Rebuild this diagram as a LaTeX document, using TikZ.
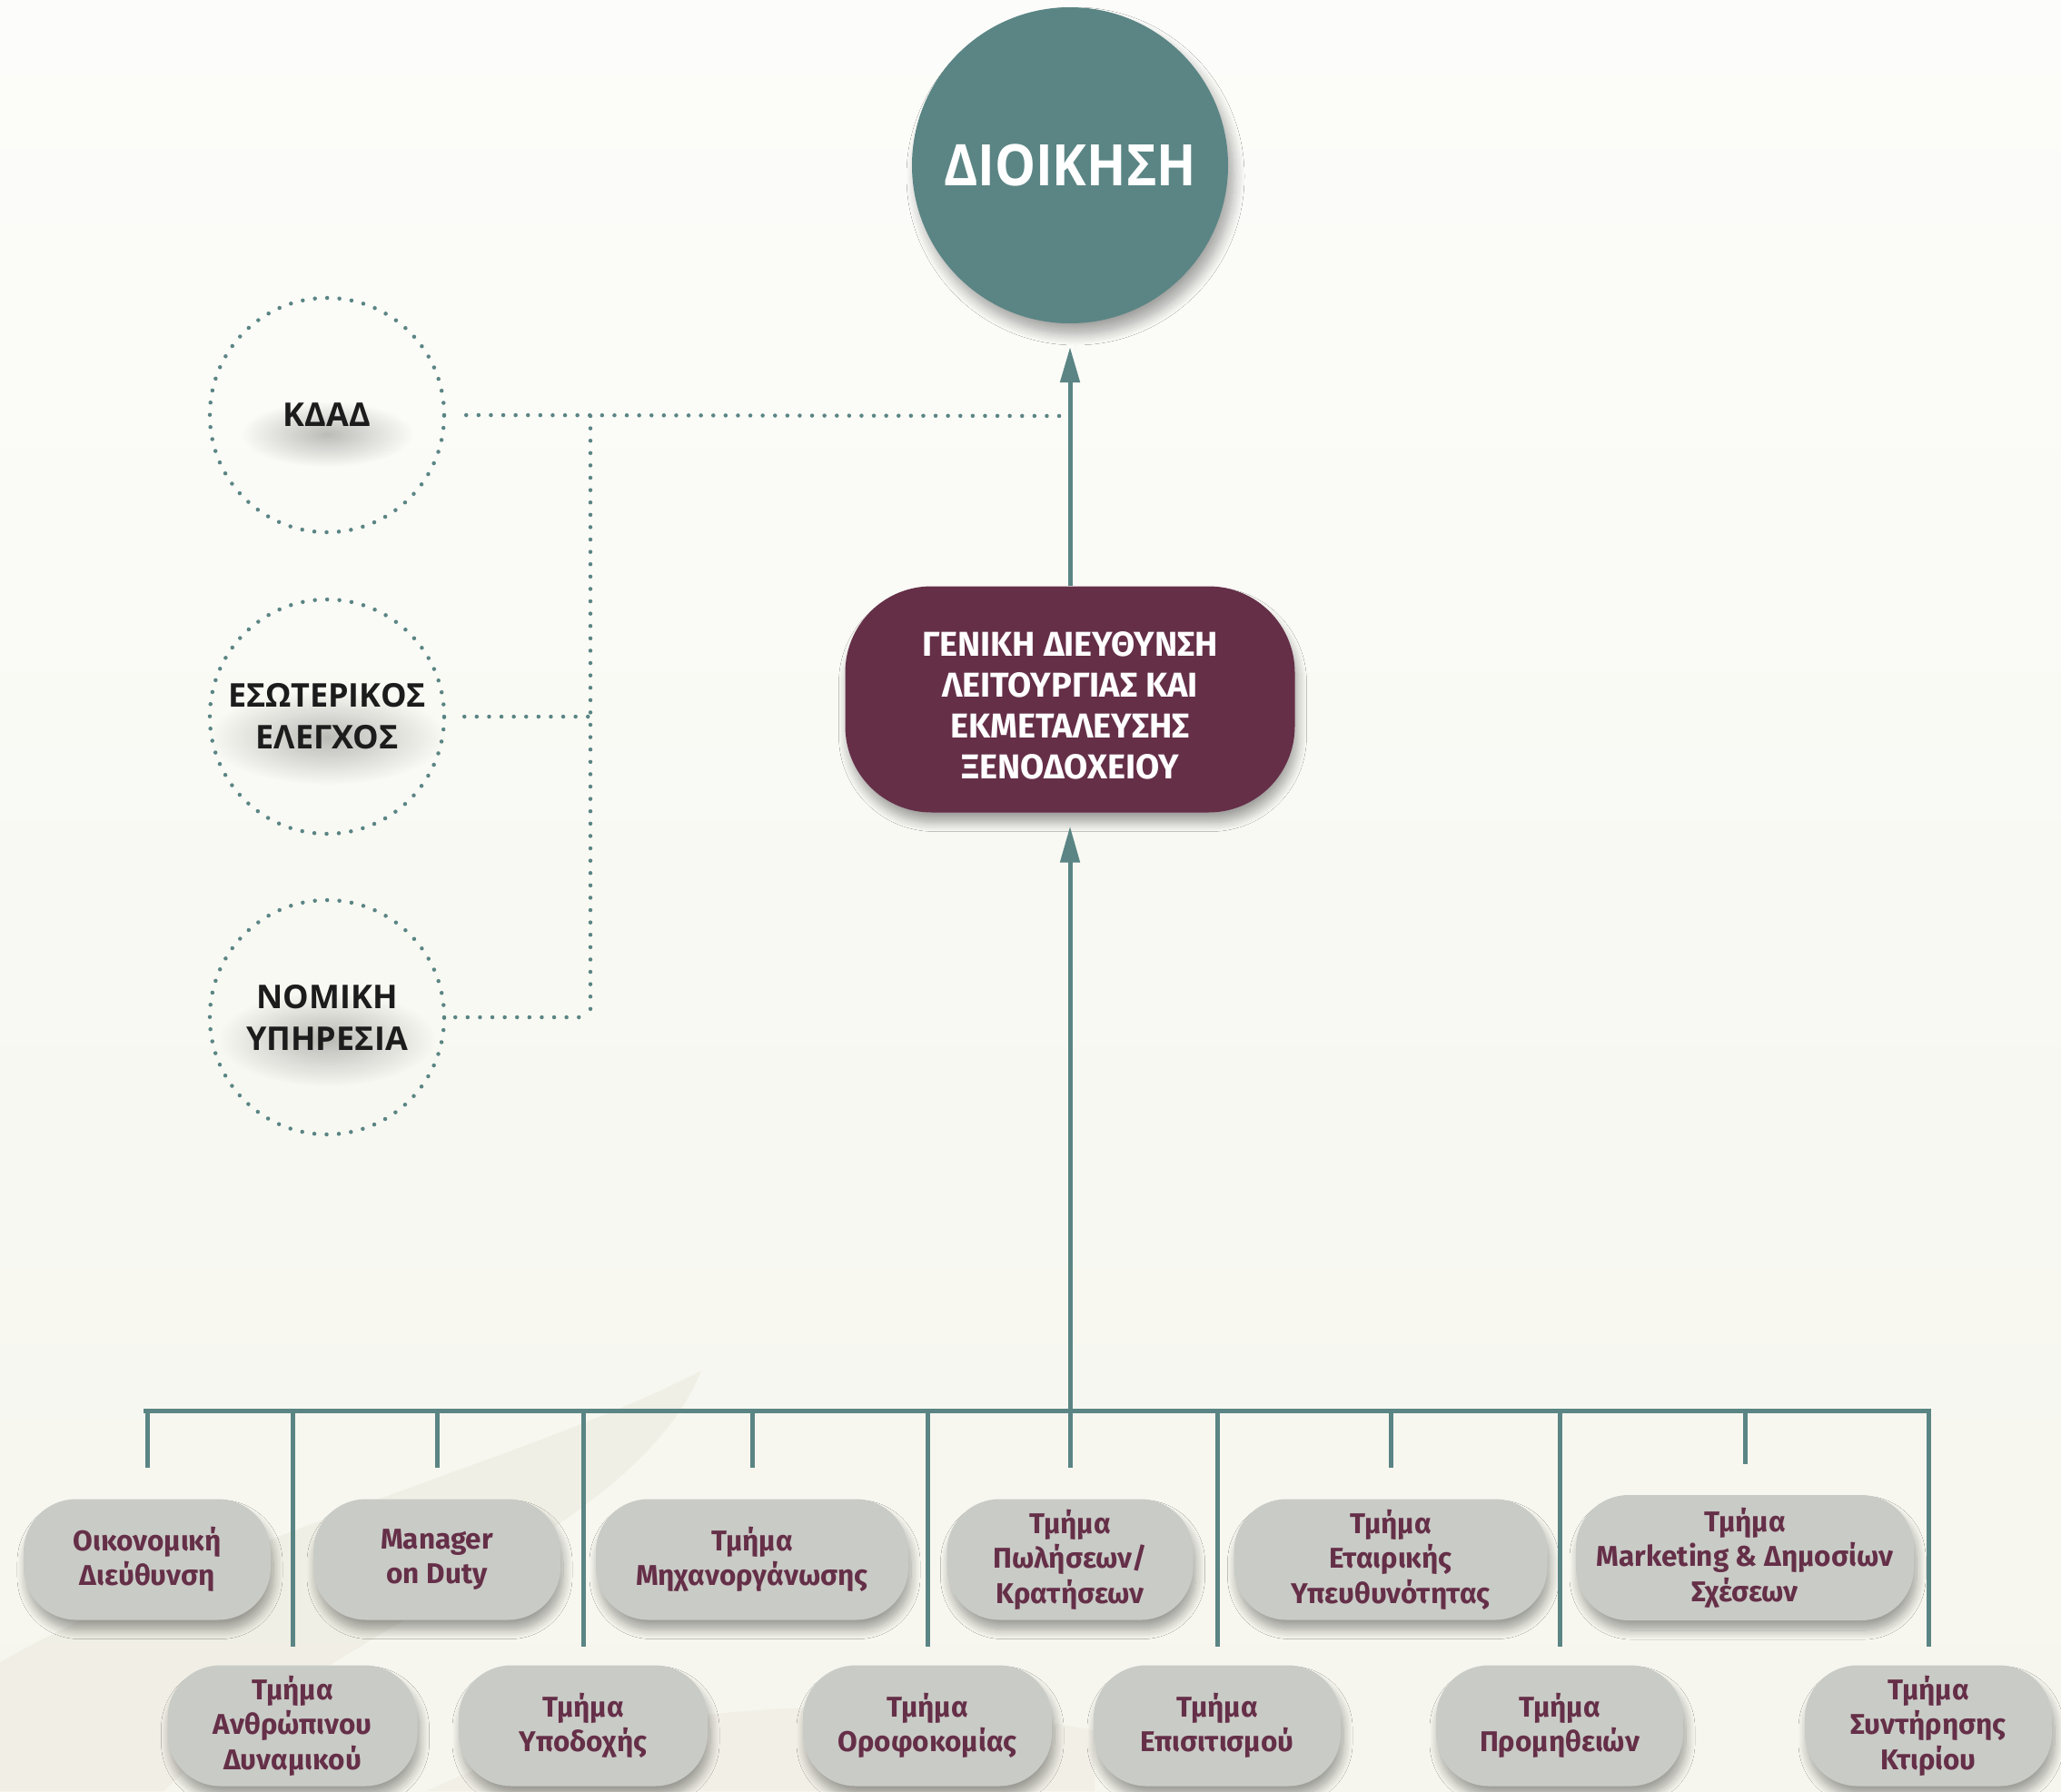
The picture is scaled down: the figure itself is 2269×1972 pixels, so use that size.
\documentclass[tikz,border=0pt]{standalone}
\usepackage{fontspec}
\setmainfont{Fira Sans}
\newfontfamily\opensans{Open Sans}
\newfontfamily\opensansN{Open Sans}[FakeStretch=0.9]
\usetikzlibrary{shadows.blur,fadings,arrows.meta}
\definecolor{orgteal}{HTML}{5A8584}
\definecolor{orgmaroon}{HTML}{652F48}
\definecolor{boxgrey}{HTML}{C9CBC6}
\definecolor{bgtop}{HTML}{FCFCFA}
\definecolor{bgbot}{HTML}{F6F6EE}
\definecolor{swoosh}{HTML}{EFEDE3}
\definecolor{inktext}{HTML}{1C1C1C}
\tikzfading[name=glowfade, inner color=transparent!0, outer color=transparent!100]
\tikzset{
  softshadow/.style={blur shadow={shadow xshift=3pt, shadow yshift=-11pt, shadow blur radius=10pt,
    shadow blur steps=12, shadow opacity=35}},
  deptbox/.style={rectangle, rounded corners=58pt, fill=boxgrey, minimum height=133pt,
    text=orgmaroon, font=\bfseries\fontsize{31.5}{38.5}\selectfont, align=center, inner sep=0pt,
    softshadow},
  sidecircle/.style={circle, minimum size=258pt, inner sep=0pt, draw=orgteal, line width=4.5pt,
    dash pattern=on 0pt off 13.5pt, line cap=round, text=inktext, align=center,
    font=\opensans\bfseries\fontsize{36}{46}\selectfont},
  dotline/.style={draw=orgteal, line width=4.5pt, dash pattern=on 0pt off 13.6pt, line cap=round},
  conn/.style={draw=orgteal, line width=5pt},
  glow/.style={black, opacity=0.25, path fading=glowfade}
}
\begin{document}
\begin{tikzpicture}[x=1pt, y=1pt]
\useasboundingbox (0,0) rectangle (2269,-1972);
% background
\shade[top color=bgtop, bottom color=bgbot] (0,0) rectangle (2269,-1972);
\fill[swoosh, opacity=0.8] (772,-1509) .. controls (600,-1600) and (250,-1690) .. (0,-1830)
   -- (0,-1972) -- (180,-1972) .. controls (380,-1780) and (700,-1690) .. (772,-1509) -- cycle;
\fill[swoosh, opacity=0.7] (470,-1972) .. controls (640,-1890) and (900,-1850) .. (1205,-1905)
   -- (1205,-1972) -- cycle;

% glows behind side texts
\fill[glow] (360,-478) ellipse [x radius=95pt, y radius=36pt];
\fill[glow] (360,-812) ellipse [x radius=130pt, y radius=52pt];
\fill[glow] (360,-1144) ellipse [x radius=120pt, y radius=52pt];

% main nodes
\node[circle, fill=orgteal, minimum size=348pt, inner sep=0pt, text=white,
      font=\opensansN\bfseries\fontsize{63}{70}\selectfont,
      blur shadow={shadow xshift=6pt, shadow yshift=-12pt, shadow blur radius=12pt,
        shadow blur steps=12, shadow opacity=35}]
      (dioik) at (1178,-182) {ΔΙΟΙΚΗΣΗ};
\node[rectangle, rounded corners=95pt, fill=orgmaroon, minimum width=495pt, minimum height=249pt,
      inner sep=0pt, softshadow]
      (gm) at (1178,-770) {};
\node[text=white, align=center, font=\bfseries\fontsize{38}{45}\selectfont, inner sep=0pt]
      (gmtext) at (1178,-777) {ΓΕΝΙΚΗ ΔΙΕΥΘΥΝΣΗ\\ΛΕΙΤΟΥΡΓΙΑΣ ΚΑΙ\\ΕΚΜΕΤΑΛΕΥΣΗΣ\\ΞΕΝΟΔΟΧΕΙΟΥ};

% side circles
\node[sidecircle] (kdad) at (360,-457) {ΚΔΑΔ};
\node[sidecircle] (eso) at (360,-789) {ΕΣΩΤΕΡΙΚΟΣ\\ΕΛΕΓΧΟΣ};
\node[sidecircle] (nom) at (360,-1120) {ΝΟΜΙΚΗ\\ΥΠΗΡΕΣΙΑ};

% department boxes, top row
\node[deptbox, minimum width=272pt] (fin) at (162,-1717) {Οικονομική\\Διεύθυνση};
\node[deptbox, minimum width=272pt] (mod) at (481,-1717) {Manager\\on Duty};
\node[deptbox, minimum width=344pt] (it) at (828,-1717) {Τμήμα\\Μηχανοργάνωσης};
\node[deptbox, minimum width=271pt] (sales) at (1178,-1717) {Τμήμα\\Πωλήσεων/\\Κρατήσεων};
\node[deptbox, minimum width=345pt] (csr) at (1531,-1717) {Τμήμα\\Εταιρικής\\Υπευθυνότητας};
\node[deptbox, minimum width=372pt, minimum height=138pt] (mkt) at (1921,-1715) {Τμήμα\\Marketing \& Δημοσίων\\Σχέσεων};
% bottom row
\node[deptbox, minimum width=275pt] (hr) at (322,-1900) {Τμήμα\\Ανθρώπινου\\Δυναμικού};
\node[deptbox, minimum width=274pt] (rec) at (642,-1900) {Τμήμα\\Υποδοχής};
\node[deptbox, minimum width=274pt] (hk) at (1021,-1900) {Τμήμα\\Οροφοκομίας};
\node[deptbox, minimum width=272pt] (fb) at (1340,-1900) {Τμήμα\\Επισιτισμού};
\node[deptbox, minimum width=272pt] (proc) at (1717,-1900) {Τμήμα\\Προμηθειών};
\node[deptbox, minimum width=272pt] (maint) at (2123,-1900) {Τμήμα\\Συντήρησης\\Κτιρίου};

% dotted connectors
\coordinate (hubTop) at (650,-458);
\coordinate (hubBot) at (650,-1120);
\coordinate (dotEnd) at (1176,-458);
\path[dotline] ([xshift=22pt]kdad.east) -- (dotEnd);
\path[dotline] (hubTop) -- (hubBot);
\path[dotline] ([xshift=20pt]eso.east) -- (eso.east -| hubTop);
\path[dotline] ([xshift=10pt]nom.east) -- (hubBot);

% solid connectors
\coordinate (bus) at (0,-1553);
\draw[conn] ([xshift=-4.5pt]fin.north |- bus) -- ([xshift=2.5pt]maint.north |- bus);
\foreach \n in {fin,mod,it,csr,mkt}
  \draw[conn] (\n.north |- bus) -- ([yshift=34pt]\n.north);
\foreach \n in {hr,rec,hk,fb,proc,maint}
  \draw[conn] (\n.north |- bus) -- ([yshift=20pt]\n.north);
\draw[conn, shorten <=34pt, shorten >=15pt, -{Triangle[length=40pt, width=21pt]}] (sales.north) -- (gm.south);
\draw[conn, shorten >=26pt, -{Triangle[length=39pt, width=21pt]}] (gm.north) -- (dioik.south);
\end{tikzpicture}
\end{document}
